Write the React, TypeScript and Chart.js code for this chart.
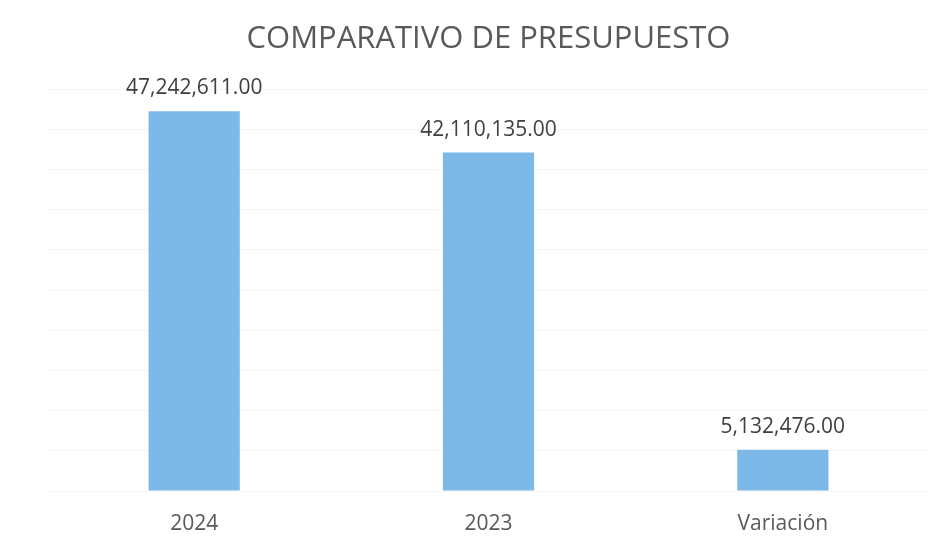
import React, { useEffect, useRef } from "react";
import { Chart, registerables } from "chart.js";

Chart.register(...registerables);

const categories = ["2024", "2023", "Variación"];
const values = [47242611, 42110135, 5132476];
const titleText = "COMPARATIVO DE PRESUPUESTO";

const fmt = (v: number) =>
  v.toLocaleString("en-US", { minimumFractionDigits: 2, maximumFractionDigits: 2 });

const labelPlugin = {
  id: "barLabels",
  afterDatasetsDraw(chart: any) {
    const { ctx } = chart;
    const meta = chart.getDatasetMeta(0);
    ctx.save();
    ctx.font = "21px 'Open Sans'";
    ctx.fillStyle = "#404040";
    ctx.textAlign = "center";
    ctx.textBaseline = "middle";
    meta.data.forEach((el: any, i: number) => {
      ctx.fillText(fmt(values[i]), el.x, el.y - 23);
    });
    ctx.restore();
  },
};

export default function App() {
  const ref = useRef<HTMLCanvasElement>(null);
  useEffect(() => {
    if (!ref.current) return;
    const chart = new Chart(ref.current, {
      type: "bar",
      data: {
        labels: categories,
        datasets: [
          {
            data: values,
            backgroundColor: "#7DB9E8",
            barPercentage: 0.31,
            categoryPercentage: 1,
          },
        ],
      },
      options: {
        animation: false,
        responsive: false,
        maintainAspectRatio: false,
        layout: { padding: { top: 21, left: 47, right: 7, bottom: 10 } },
        plugins: {
          legend: { display: false },
          tooltip: { enabled: false },
          title: {
            display: true,
            text: titleText,
            color: "#595959",
            font: { family: "'Open Sans'", size: 31, weight: "normal", lineHeight: 1.2 },
            padding: { top: 0, bottom: 31 },
          },
        },
        scales: {
          x: {
            grid: { display: false, drawTicks: false },
            border: { display: false },
            ticks: {
              color: "#595959",
              font: { family: "'Open Sans'", size: 21 },
              padding: 20,
            },
            afterFit: (scale: any) => {
              scale.height = 42;
            },
          },
          y: {
            min: 0,
            max: 50000000,
            grid: { color: "rgba(0,0,0,0.035)", drawTicks: false },
            border: { display: false },
            ticks: { display: false, stepSize: 5000000 },
          },
        },
      },
      plugins: [labelPlugin],
    });
    return () => chart.destroy();
  }, []);
  return (
    <div style={{ position: "fixed", left: 0, top: 0, width: 937, height: 543, background: "#fff" }}>
      <canvas ref={ref} width={937} height={543} />
    </div>
  );
}
